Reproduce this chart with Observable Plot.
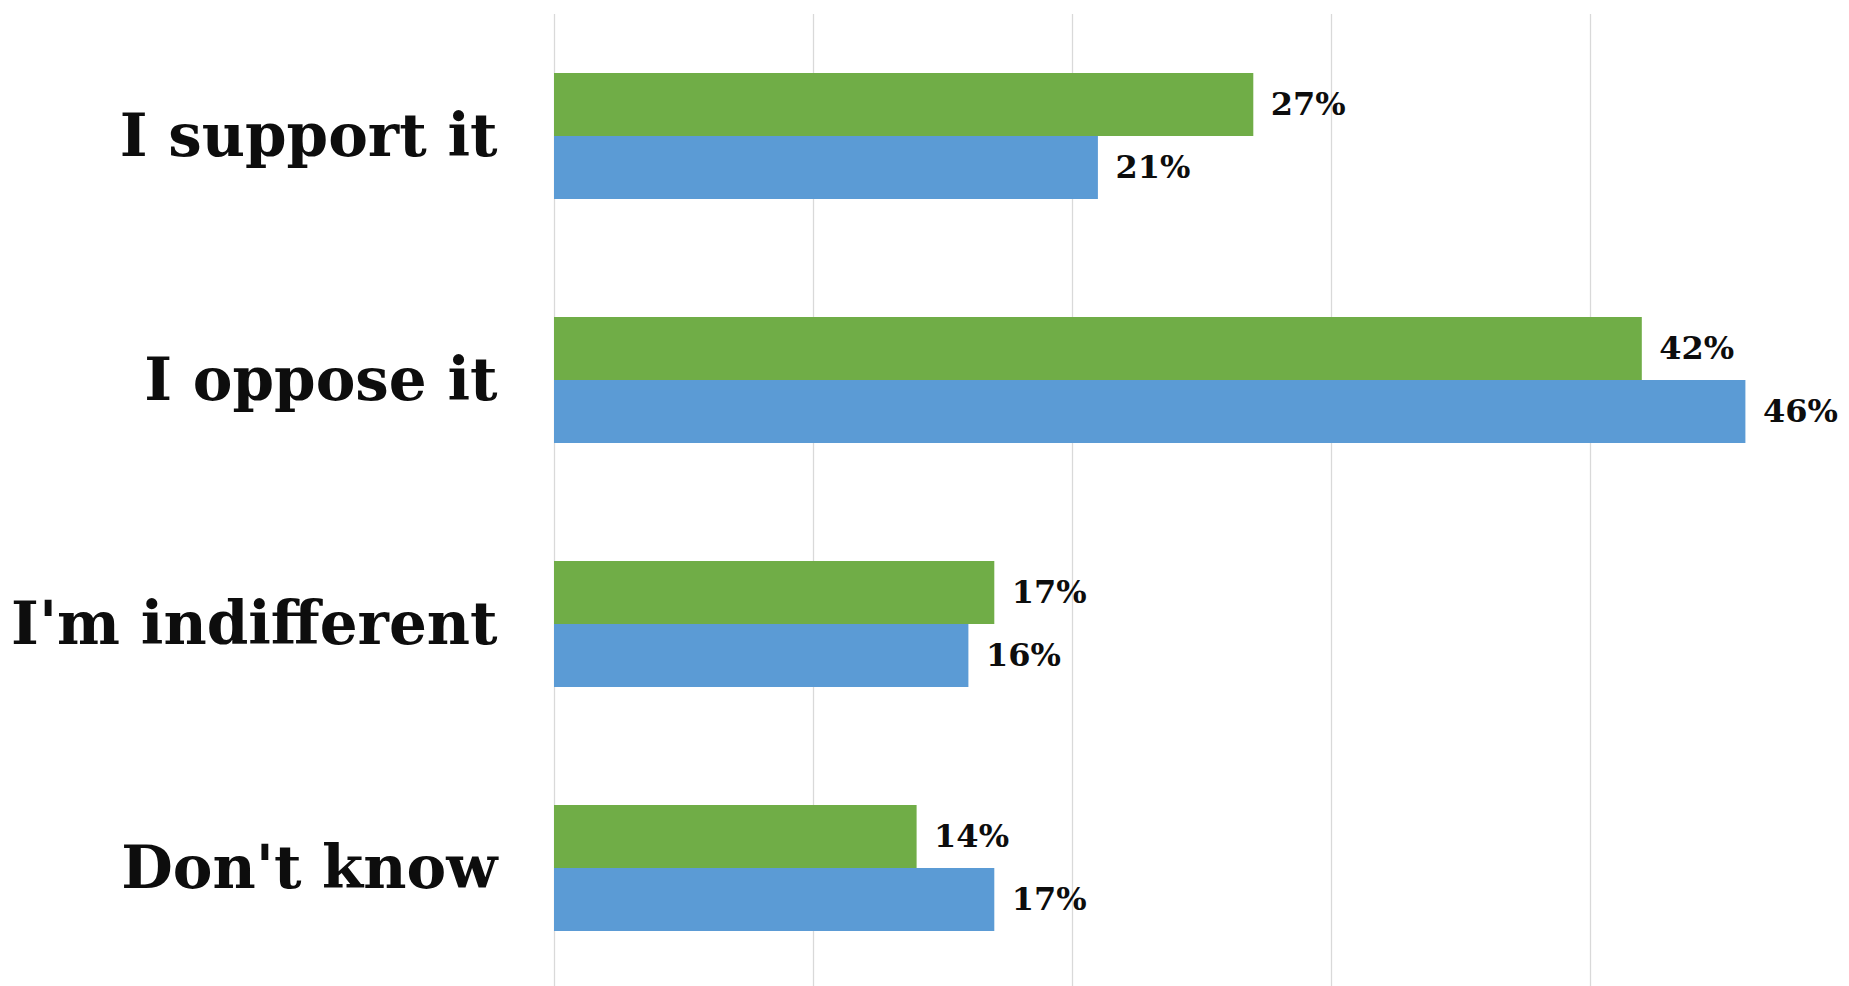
<!DOCTYPE html>
<html>
<head>
<meta charset="utf-8">
<script src="https://cdn.jsdelivr.net/npm/d3@7"></script>
<script src="https://cdn.jsdelivr.net/npm/@observablehq/plot@0.6"></script>
<style>
  html, body { margin: 0; padding: 0; background: #ffffff; overflow: hidden; }
  #chart { width: 1849px; height: 986px; overflow: hidden; }
</style>
</head>
<body>
<div id="chart"></div>
<script>
const categories = ["I support it", "I oppose it", "I'm indifferent", "Don't know"];
const seriesNames = ["Series 1", "Series 2"];
const seriesColors = ["#70AD47", "#5B9BD5"];
const series1Values = [27, 42, 17, 14];
const series2Values = [21, 46, 16, 17];
const gridTicks = [0, 10, 20, 30, 40];

const data = [];
categories.forEach((c, i) => {
  data.push({category: c, series: seriesNames[0], value: series1Values[i]});
  data.push({category: c, series: seriesNames[1], value: series2Values[i]});
});

const chart = Plot.plot({
  width: 1849,
  height: 990,
  marginLeft: 554,
  marginRight: 0,
  marginTop: 13,
  marginBottom: 0,
  x: {domain: [0, 50], axis: null},
  y: {domain: seriesNames, axis: null, paddingInner: 0, paddingOuter: 0.908},
  fy: {domain: categories, padding: 0, label: null},
  color: {domain: seriesNames, range: seriesColors},
  style: {fontFamily: "DejaVu Serif", background: "#ffffff", color: "#0d0d0d"},
  marks: [
    Plot.ruleX(gridTicks, {x: d => d, stroke: "#d9d9d9", strokeWidth: 1.3}),
    Plot.barX(data, {x: "value", y: "series", fy: "category", fill: "series"}),
    Plot.text(data, {
      x: "value", y: "series", fy: "category",
      text: d => d.value + "%",
      dx: 17, textAnchor: "start",
      fontSize: 32, fontWeight: "bold", fontFamily: "DejaVu Serif", fill: "#0d0d0d"
    }),
    Plot.axisFy({
      anchor: "left",
      tickSize: 0, tickPadding: 57, label: null,
      fontSize: 59.5, fontWeight: "bold", fontFamily: "DejaVu Serif", fill: "#0d0d0d"
    })
  ]
});
document.getElementById("chart").appendChild(chart);
</script>
</body>
</html>
